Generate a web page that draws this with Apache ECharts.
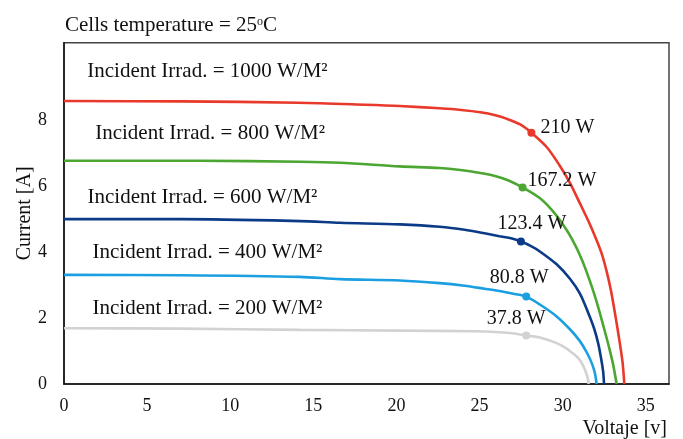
<!DOCTYPE html>
<html>
<head>
<meta charset="utf-8">
<script src="https://cdn.jsdelivr.net/npm/echarts@6/dist/echarts.min.js"></script>
<style>
html,body{margin:0;padding:0;background:#fff;}
#chart{width:683px;height:439px;}
</style>
</head>
<body>
<div id="chart"></div>
<script>
// ---- data (Voltage [V], Current [A]) ----
const xTicks = [0, 5, 10, 15, 20, 25, 30, 35];
const yTicks = [0, 2, 4, 6, 8];

const irr1000 = [[0,8.58],[7,8.57],[14.1,8.53],[18.1,8.47],[20.2,8.43],[22.6,8.36],[23.9,8.31],[25.05,8.24],[25.95,8.15],[26.65,8.04],[27.45,7.87],[28.12,7.62],[29.05,7.18],[29.83,6.62],[30.43,6.11],[31.02,5.5],[31.59,4.9],[32.02,4.39],[32.38,3.91],[32.67,3.37],[32.91,2.83],[33.09,2.32],[33.27,1.78],[33.45,1.21],[33.61,0.64],[33.71,0]];
const irr800 = [[0,6.77],[8.1,6.77],[14.2,6.74],[16.6,6.71],[20.2,6.6],[22.6,6.55],[23.85,6.49],[25.05,6.4],[25.93,6.31],[26.71,6.18],[27.59,5.96],[28.64,5.63],[29.36,5.27],[29.96,4.88],[30.56,4.4],[31.16,3.77],[31.71,3.02],[32.13,2.35],[32.49,1.69],[32.79,1.12],[33.03,0.61],[33.25,0]];
const irr600 = [[0,5.0],[7,5.0],[14.2,4.94],[16.6,4.89],[20.2,4.84],[22.6,4.77],[24.1,4.68],[25.3,4.57],[26.2,4.48],[26.95,4.41],[27.49,4.32],[28.1,4.18],[28.63,4.02],[29.64,3.63],[30.44,3.19],[31.04,2.74],[31.53,2.17],[31.89,1.69],[32.15,1.21],[32.33,0.73],[32.44,0.37],[32.49,0]];
const irr400 = [[0,3.31],[7,3.3],[14.2,3.25],[16.6,3.18],[20.2,3.14],[22.6,3.06],[24.1,2.98],[25.3,2.89],[26.2,2.82],[27.1,2.73],[27.81,2.65],[28.63,2.41],[29.64,2.05],[30.44,1.66],[31.04,1.3],[31.47,0.94],[31.77,0.61],[31.95,0.31],[32.04,0]];
const irr200 = [[0,1.69],[7,1.68],[14.2,1.64],[20.2,1.62],[24.6,1.6],[26.2,1.57],[27.1,1.53],[27.81,1.47],[28.63,1.41],[29.64,1.24],[30.2,1.09],[30.64,0.92],[30.98,0.76],[31.24,0.55],[31.41,0.34],[31.53,0.13],[31.56,0]];

const mppPoints = [[28.12,7.62],[27.59,5.96],[27.49,4.32],[27.81,2.65],[27.81,1.47]];
const mppLabels = ['210 W','167.2 W','123.4 W','80.8 W','37.8 W'];

const irrLabels = ['Incident Irrad. = 1000 W/M²','Incident Irrad. = 800 W/M²','Incident Irrad. = 600 W/M²','Incident Irrad. = 400 W/M²','Incident Irrad. = 200 W/M²'];
const irrLabelPos = [[8.63,9.47],[8.79,7.6],[8.33,5.65],[8.63,3.99],[8.63,2.28]];

const colors = ['#e8392b','#4ba632','#0b3b87','#1b9fe0','#d2d2d2'];
const curves = [irr1000, irr800, irr600, irr400, irr200];

// label placement (style only)
const mppLabelStyle = [
  {position:'right', offset:[0,-5]},
  {position:'right', offset:[-4,-7]},
  {position:'top', offset:[11,1]},
  {position:'top', offset:[-7,0]},
  {position:'top', offset:[-10,2]}
];

const FONT = 'Liberation Serif';
const TXT = '#111';
const chart = echarts.init(document.getElementById('chart'), null, {renderer:'canvas'});

const series = [];
curves.forEach((c, i) => {
  series.push({
    type:'line', data:c, smooth:0.3, showSymbol:false, symbol:'none',
    lineStyle:{color:colors[i], width:2.6}, z:2, silent:true
  });
});
mppPoints.forEach((p, i) => {
  series.push({
    type:'scatter', data:[{value:p, name:mppLabels[i]}], symbolSize:8, z:3,
    itemStyle:{color:colors[i], opacity:1},
    label:{show:true, formatter:'{b}', color:TXT, fontFamily:FONT, fontSize:20,
      position:mppLabelStyle[i].position, offset:mppLabelStyle[i].offset, distance:5}
  });
});
series.push({
  type:'scatter', symbolSize:0, z:4, silent:true,
  itemStyle:{opacity:1},
  data: irrLabelPos.map((p, i) => ({value:p, name:irrLabels[i]})),
  label:{show:true, position:'inside', formatter:'{b}', color:TXT, fontFamily:FONT, fontSize:21}
});

chart.setOption({
  animation:false,
  backgroundColor:'#fff',
  title:{
    text:'{a|Cells temperature = 25}{s|o}{a|C}', left:60, top:10,
    textStyle:{fontWeight:'normal', rich:{
      a:{fontFamily:FONT, fontSize:21, fontWeight:'normal', color:TXT},
      s:{fontFamily:FONT, fontSize:12, fontWeight:'normal', color:TXT, padding:[0,0,7,0]}
    }}
  },
  grid:{left:64, right:14, top:42.7, bottom:51.7, show:true, borderColor:'#444', borderWidth:1.5, containLabel:false},
  xAxis:{
    type:'value', min:0, max:36.4,
    name:'Voltaje [v]', nameLocation:'end', nameGap:0, nameMoveOverlap:false,
    nameTextStyle:{fontFamily:FONT, fontSize:20, color:TXT, align:'right', verticalAlign:'top', padding:[35,2,0,0]},
    axisLine:{show:true, onZero:false, lineStyle:{color:'#111', width:1.5}},
    axisTick:{show:false},
    splitLine:{show:false},
    axisLabel:{customValues:xTicks, fontFamily:FONT, fontSize:18, color:TXT, margin:13}
  },
  yAxis:{
    type:'value', min:0, max:10.35,
    name:'Current [A]', nameLocation:'middle', nameGap:29, nameRotate:90, nameMoveOverlap:false,
    nameTextStyle:{fontFamily:FONT, fontSize:20, color:TXT},
    axisLine:{show:true, onZero:false, lineStyle:{color:'#111', width:1.5}},
    axisTick:{show:false},
    splitLine:{show:false},
    axisLabel:{customValues:yTicks, fontFamily:FONT, fontSize:18, color:TXT, margin:17, padding:[0,0,9,0]}
  },
  series:series
});
</script>
</body>
</html>
